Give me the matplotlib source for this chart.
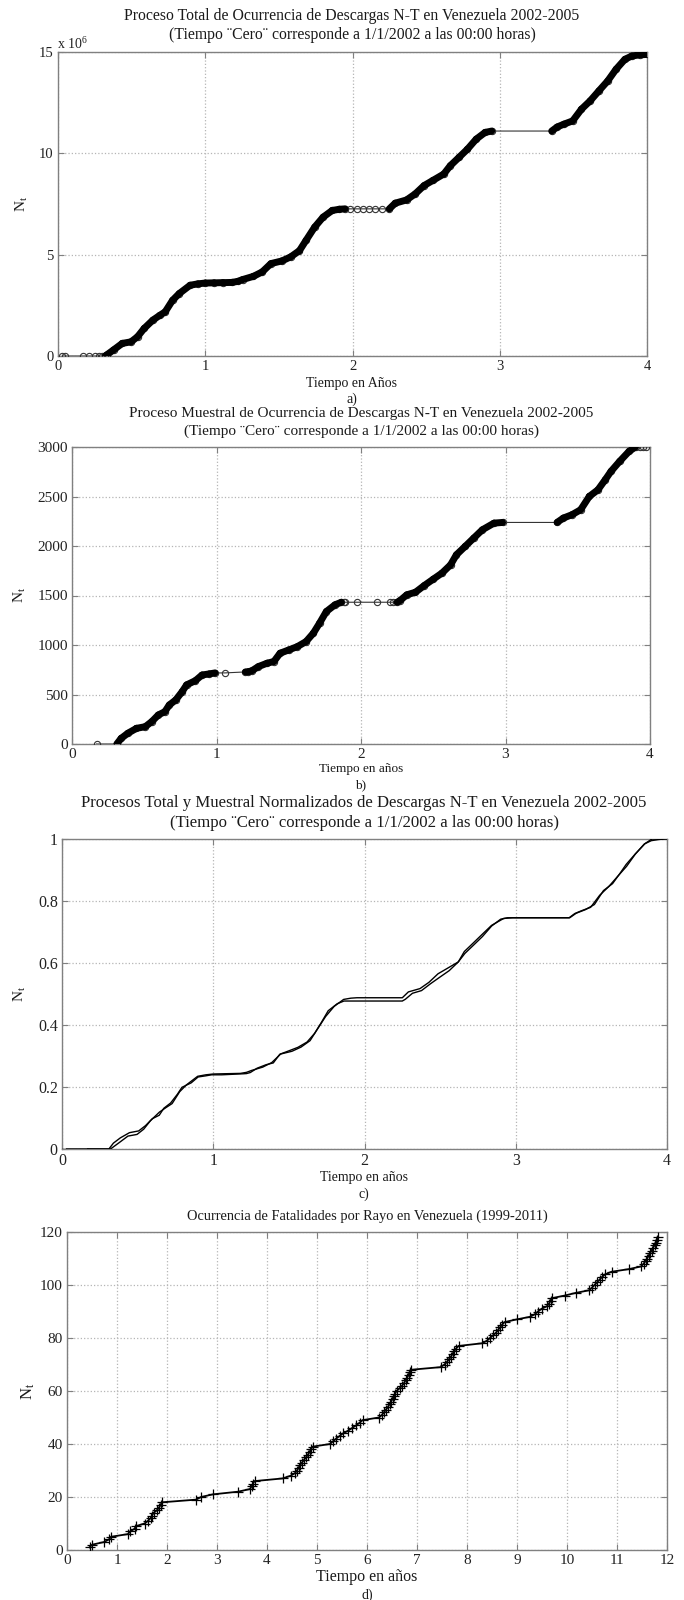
import numpy as np
import matplotlib
matplotlib.use("Agg")
import matplotlib.pyplot as plt
from matplotlib.collections import LineCollection
from matplotlib.ticker import FuncFormatter, MultipleLocator

plt.rcParams['font.family'] = ['Liberation Serif', 'DejaVu Serif']
plt.rcParams['mathtext.fontset'] = 'custom'
plt.rcParams['mathtext.rm'] = 'Liberation Serif'
plt.rcParams['mathtext.it'] = 'Liberation Serif'

# ---------------- data ----------------
# a) total process (millions of discharges)
t_a = [0.03, 0.05, 0.17, 0.21, 0.25, 0.28, 0.30, 0.32, 0.33, 0.377, 0.436, 0.496, 0.54,
       0.585, 0.644, 0.69, 0.728, 0.778, 0.823, 0.897, 0.95, 1.0, 1.06, 1.12, 1.18,
       1.22, 1.253, 1.327, 1.387, 1.446, 1.52, 1.58, 1.64, 1.684, 1.743, 1.80, 1.862,
       1.91, 1.95, 1.98, 2.03, 2.07, 2.11, 2.15, 2.20, 2.25, 2.29, 2.367, 2.426, 2.486,
       2.545, 2.62, 2.664, 2.723, 2.78, 2.84, 2.90, 2.946, 3.353, 3.39, 3.436, 3.495,
       3.555, 3.614, 3.673, 3.733, 3.79, 3.85, 3.896, 3.95, 4.0]
n_a = [0.0, 0.0, 0.0, 0.0, 0.0, 0.0, 0.0, 0.0, 0.05, 0.30, 0.62, 0.70, 0.95,
       1.36, 1.77, 2.00, 2.18, 2.75, 3.08, 3.49, 3.56, 3.60, 3.61, 3.62, 3.63,
       3.68, 3.77, 3.93, 4.15, 4.56, 4.69, 4.89, 5.20, 5.70, 6.36, 6.85, 7.18,
       7.24, 7.26, 7.26, 7.26, 7.26, 7.26, 7.26, 7.26, 7.26, 7.54, 7.70, 8.00, 8.41,
       8.66, 8.98, 9.39, 9.80, 10.20, 10.70, 11.03, 11.10, 11.10, 11.30, 11.44, 11.60,
       12.18, 12.59, 13.08, 13.57, 14.15, 14.64, 14.80, 14.86, 14.88]

# b) sample process
t_b = [0.17, 0.31, 0.34, 0.386, 0.446, 0.507, 0.552, 0.597, 0.643, 0.673, 0.718,
       0.763, 0.793, 0.854, 0.90, 0.95, 0.99, 1.056, 1.20, 1.22, 1.245, 1.29, 1.35,
       1.397, 1.44, 1.50, 1.56, 1.62, 1.67, 1.713, 1.76, 1.82, 1.864, 1.88, 1.89,
       1.97, 2.11, 2.20, 2.22, 2.25, 2.27, 2.317, 2.377, 2.437, 2.50, 2.56, 2.62,
       2.66, 2.72, 2.78, 2.84, 2.92, 2.98, 3.357, 3.40, 3.46, 3.52, 3.58, 3.64, 3.69,
       3.73, 3.79, 3.855, 3.90, 3.93, 3.95, 3.97]
n_b = [0, 0, 57, 108, 158, 175, 226, 293, 327, 394, 445,
       530, 597, 640, 697, 708, 718, 718, 728, 730, 740, 782, 816,
       833, 917, 950, 984, 1035, 1119, 1220, 1338, 1406, 1432, 1432, 1432,
       1432, 1432, 1432, 1432, 1432, 1449, 1507, 1533, 1600, 1665, 1726, 1810,
       1911, 1995, 2080, 2164, 2231, 2238, 2238, 2282, 2316, 2366, 2501, 2568, 2669,
       2754, 2855, 2956, 3000, 3000, 3000, 3000]

# d) lightning fatalities: event times (years) and cumulative count
t_d = [0.45, 0.50, 0.74, 0.84, 0.88, 1.22, 1.26, 1.35, 1.38, 1.55,
       1.62, 1.67, 1.70, 1.73, 1.80, 1.84, 1.87, 1.90, 2.58, 2.68,
       2.92, 3.42, 3.66, 3.69, 3.72, 3.75, 4.31, 4.47, 4.56, 4.60,
       4.63, 4.66, 4.70, 4.74, 4.78, 4.82, 4.85, 4.88, 4.91, 5.26,
       5.32, 5.38, 5.45, 5.52, 5.62, 5.70, 5.78, 5.85, 5.91, 6.24,
       6.30, 6.34, 6.38, 6.42, 6.45, 6.48, 6.51, 6.53, 6.56, 6.59,
       6.65, 6.70, 6.74, 6.77, 6.80, 6.83, 6.85, 6.87, 7.47, 7.55,
       7.60, 7.64, 7.68, 7.71, 7.74, 7.78, 7.83, 8.30, 8.40, 8.46,
       8.52, 8.58, 8.62, 8.66, 8.70, 8.75, 8.99, 9.26, 9.36, 9.42,
       9.49, 9.60, 9.64, 9.67, 9.69, 9.95, 10.17, 10.44, 10.50, 10.55,
       10.60, 10.65, 10.70, 10.76, 10.89, 11.24, 11.48, 11.53, 11.57, 11.60,
       11.63, 11.66, 11.69, 11.72, 11.75, 11.77, 11.79, 11.81]
n_d = [1, 2, 3, 4, 5, 6, 7, 8, 9, 10,
       11, 12, 13, 14, 15, 16, 17, 18, 19, 20,
       21, 22, 23, 24, 25, 26, 27, 28, 29, 30,
       31, 32, 33, 34, 35, 36, 37, 38, 39, 40,
       41, 42, 43, 44, 45, 46, 47, 48, 49, 50,
       51, 52, 53, 54, 55, 56, 57, 58, 59, 60,
       61, 62, 63, 64, 65, 66, 67, 68, 69, 70,
       71, 72, 73, 74, 75, 76, 77, 78, 79, 80,
       81, 82, 83, 84, 85, 86, 87, 88, 89, 90,
       91, 92, 93, 94, 95, 96, 97, 98, 99, 100,
       101, 102, 103, 104, 105, 106, 107, 108, 109, 110,
       111, 112, 113, 114, 115, 116, 117, 118]

title_a = ["Proceso Total de Ocurrencia de Descargas N-T en Venezuela 2002-2005",
           "(Tiempo \u00a8Cero\u00a8 corresponde a 1/1/2002 a las 00:00 horas)"]
title_b = ["Proceso Muestral de Ocurrencia de Descargas N-T en Venezuela 2002-2005",
           "(Tiempo \u00a8Cero\u00a8 corresponde a 1/1/2002 a las 00:00 horas)"]
title_c = ["Procesos Total y Muestral Normalizados de Descargas N-T en Venezuela 2002-2005",
           "(Tiempo \u00a8Cero\u00a8 corresponde a 1/1/2002 a las 00:00 horas)"]
title_d = ["Ocurrencia de Fatalidades por Rayo en Venezuela (1999-2011)"]

# ---------------- figure ----------------
W, H = 684, 1600
fig = plt.figure(figsize=(W / 100, H / 100), dpi=100)


def add_axes(l, r, t, b):
    return fig.add_axes([l / W, 1 - b / H, (r - l) / W, (b - t) / H])


def ftext(x, y, s, size, **kw):
    fig.text(x / W, 1 - y / H, s, fontsize=size, ha='center', va='center',
             color='#1a1a1a', **kw)


GRID = '#b5b5b5'
SPINE = '#808080'


def style(ax, tsize):
    for sp in ax.spines.values():
        sp.set_color(SPINE)
        sp.set_linewidth(1.0)
    ax.tick_params(direction='in', length=4, width=0.8, color=SPINE, top=True, right=True,
                   labelsize=tsize, pad=3, labelcolor='#222222')
    ax.grid(True, linestyle=':', color=GRID, linewidth=0.9)
    ax.set_axisbelow(True)


def process_plot(ax, t, n):
    t = np.asarray(t, float)
    n = np.asarray(n, float)
    ax.plot(t, n, '-', color='#333333', lw=0.8, zorder=2)
    ax.plot(t, n, 'o', mfc='none', mec='#333333', ms=4.5, mew=0.8, zorder=3)
    segs = []
    for i in range(len(t) - 1):
        if n[i + 1] > n[i] and (t[i + 1] - t[i]) < 0.1:
            segs.append([(t[i], n[i]), (t[i + 1], n[i + 1])])
    lc = LineCollection(segs, colors='black', linewidths=5.0, capstyle='round',
                        joinstyle='round', zorder=4)
    ax.add_collection(lc)


# ---- a ----
axa = add_axes(58, 647, 52, 356)
style(axa, 10.5)
process_plot(axa, t_a, n_a)
axa.set_xlim(0, 4)
axa.set_ylim(0, 15)
axa.xaxis.set_major_locator(MultipleLocator(1))
axa.yaxis.set_major_locator(MultipleLocator(5))
ftext(352, 16, title_a[0], 11.3)
ftext(352, 35, title_a[1], 11.3)
fig.text(57 / W, 1 - 44 / H, r'x 10$^{6}$', fontsize=10, ha='left', va='center', color='#222222')
ftext(352, 383, "Tiempo en A\u00f1os", 10)
ftext(352, 399, "a)", 10)
ftext(22, 204, r'$\mathrm{N_t}$', 11, rotation=90)

# ---- b ----
axb = add_axes(72, 650, 447, 744)
style(axb, 11)
process_plot(axb, t_b, n_b)
axb.set_xlim(0, 4)
axb.set_ylim(0, 3000)
axb.xaxis.set_major_locator(MultipleLocator(1))
axb.yaxis.set_major_locator(MultipleLocator(500))
ftext(361, 413, title_b[0], 11)
ftext(361, 431, title_b[1], 11)
ftext(361, 769, "Tiempo en a\u00f1os", 9.5)
ftext(361, 785, "b)", 9.5)
ftext(20, 595, r'$\mathrm{N_t}$', 11, rotation=90)

# ---- c ----
axc = add_axes(62, 667, 839, 1149)
style(axc, 11.5)
na = np.asarray(n_a, float)
nb = np.asarray(n_b, float)
axc.plot(t_a, na / na.max(), color='black', lw=1.0, zorder=3)
axc.plot(t_b, nb / nb.max(), color='black', lw=1.0, zorder=3)
axc.plot([0, t_b[0]], [0, 0], color='black', lw=1.0, zorder=3)
axc.set_xlim(0, 4)
axc.set_ylim(0, 1)
axc.xaxis.set_major_locator(MultipleLocator(1))
axc.yaxis.set_major_locator(MultipleLocator(0.2))
axc.yaxis.set_major_formatter(FuncFormatter(lambda v, p: f"{v:g}"))
ftext(364, 803, title_c[0], 12.1)
ftext(364, 823, title_c[1], 12.1)
ftext(364, 1177, "Tiempo en a\u00f1os", 10)
ftext(364, 1194, "c)", 10)
ftext(20, 994, r'$\mathrm{N_t}$', 11, rotation=90)

# ---- d ----
axd = add_axes(67, 667, 1232, 1550)
style(axd, 11)
axd.plot(t_d, n_d, '-', color='black', lw=1.3, zorder=3)
axd.plot(t_d, n_d, '+', color='black', ms=7.5, mew=0.9, zorder=4)
axd.set_xlim(0, 12)
axd.set_ylim(0, 120)
axd.xaxis.set_major_locator(MultipleLocator(1))
axd.yaxis.set_major_locator(MultipleLocator(20))
ftext(367, 1216, title_d[0], 10.4)
ftext(367, 1577, "Tiempo en a\u00f1os", 11.5)
ftext(367, 1595, "d)", 10)
ftext(28, 1391, r'$\mathrm{N_t}$', 12, rotation=90)

fig.savefig("out.png", dpi=100, facecolor='white')
